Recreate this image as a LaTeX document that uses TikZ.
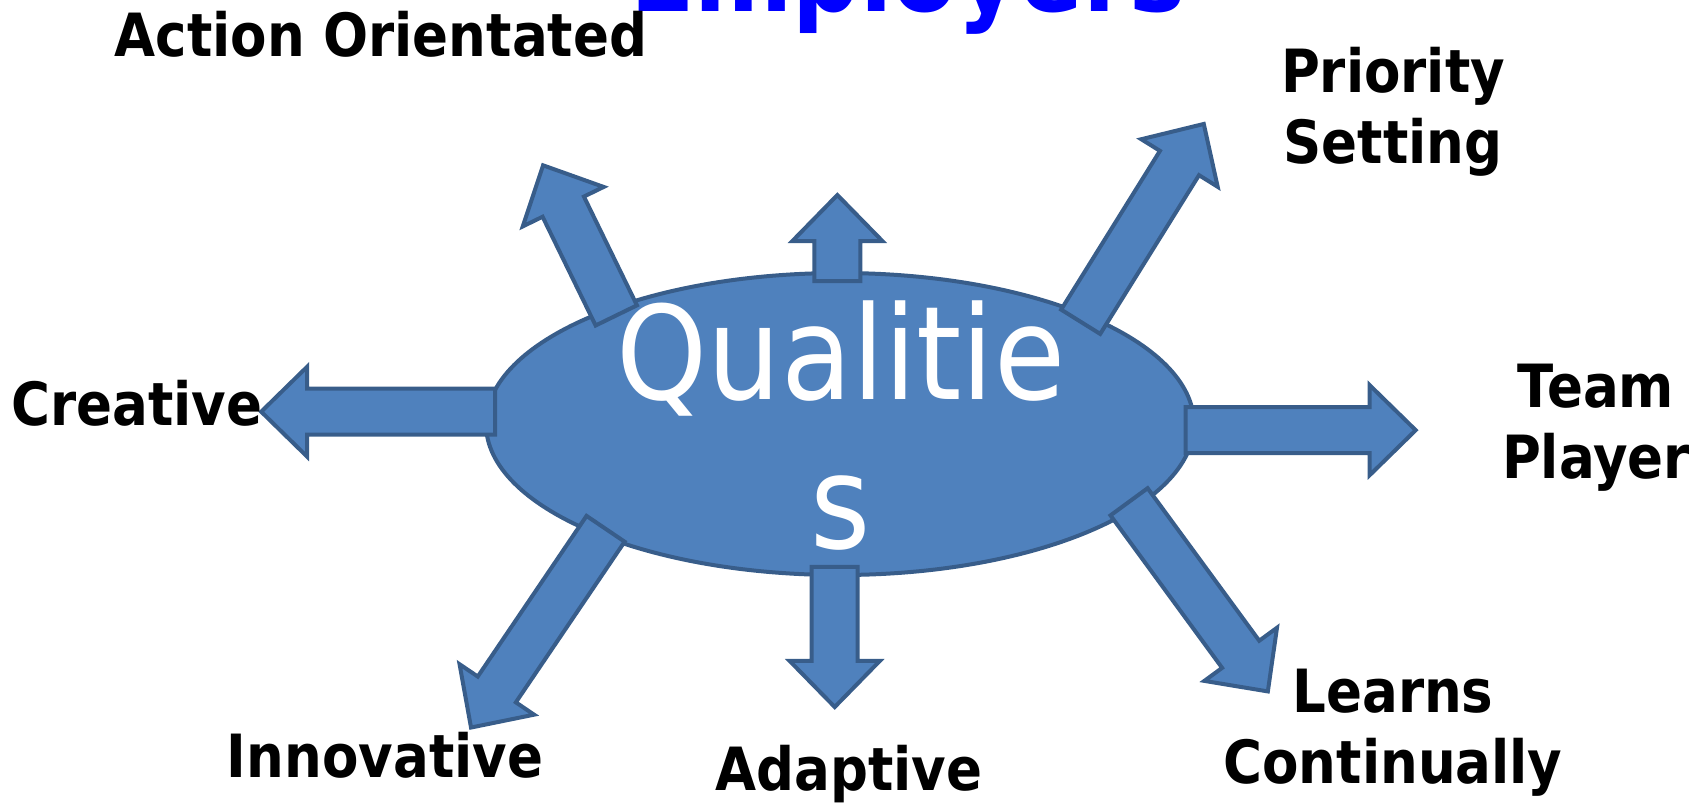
\documentclass[tikz,border=0pt]{standalone}
\usepackage{fontspec}
\setmainfont{DejaVu Sans}[FakeStretch=0.89]
\usepackage{tikz}
\usetikzlibrary{shapes.geometric}
\definecolor{arrfill}{HTML}{4F81BD}
\definecolor{arrline}{HTML}{385D8A}
\tikzset{
  blockarr/.style={fill=arrfill,draw=arrline,line width=2pt,line join=miter},
  lbl/.style={font=\bfseries\fontsize{29.8}{35.5}\selectfont,anchor=base,align=center,inner sep=0pt}
}
\begin{document}
\begin{tikzpicture}[x=0.5pt,y=0.5pt]
  \useasboundingbox (0,0) rectangle (1701,-805);
  \clip (0,0) rectangle (1701,-805);
  % title, cut off at the top
  \node[anchor=base,text=blue,font=\bfseries\fontsize{53}{60}\selectfont,inner sep=0pt] (title) at (908,-11) {Employers};
  % the ellipse
  \node[ellipse,minimum width=354pt,minimum height=151pt,inner sep=0pt,outer sep=0pt,
        fill=arrfill,draw=arrline,line width=2pt] (qual) at (840,-424) {};
  % the arrows: anchor on the ellipse / direction / length
  \foreach \anc/\ang/\len in {91/90/78, 178.9/180/226, -1.5/0/222, 268.5/270/132,
                             153.6/116/159, 24.2/58.1/225, 205.6/235.9/232, -16.6/-53.8/227}
    \draw[blockarr,shift={(qual.\anc)},rotate=\ang]
      (-8,-23) -- (\len-46,-23) -- (\len-46,-45) -- (\len,0) -- (\len-46,45) -- (\len-46,23) -- (-8,23) -- cycle;
  % text in the ellipse (base is the last line)
  \node[text=white,font=\fontsize{65}{74.5}\selectfont,align=center,anchor=base,inner sep=0pt] (qtext) at (841,-548) {Qualitie\\s};
  % labels
  \node[lbl] (action) at (381,-56) {Action Orientated};
  \node[lbl] (prio) at (1393,-163) {Priority\\Setting};
  \node[lbl] (creat) at (137,-425) {Creative};
  \node[lbl] (team) at (1596,-478) {Team\\Player};
  \node[lbl] (innov) at (385,-777) {Innovative};
  \node[lbl] (adapt) at (849,-790) {Adaptive};
  \node[lbl] (learn) at (1393,-783) {Learns\\Continually};
\end{tikzpicture}
\end{document}
